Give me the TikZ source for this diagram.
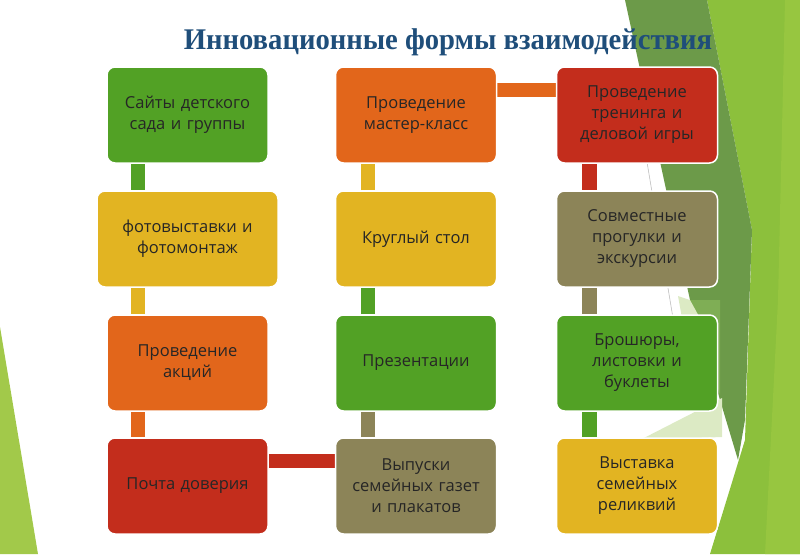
\documentclass[tikz,border=0pt]{standalone}
\usepackage{fontspec}
\usetikzlibrary{backgrounds}
\setmainfont{Open Sans}
\newfontfamily\titlefont{Liberation Serif}
\definecolor{cgreen}{HTML}{52A125}
\definecolor{cyellow}{HTML}{E2B422}
\definecolor{corange}{HTML}{E2661B}
\definecolor{cred}{HTML}{C32D1C}
\definecolor{ckhaki}{HTML}{8C8458}
\definecolor{ctitle}{HTML}{1F4E7A}
\definecolor{ctext}{HTML}{262626}
\definecolor{bgdark}{HTML}{6C9A49}
\definecolor{bglight}{HTML}{8CC03C}
\definecolor{bglight2}{HTML}{97C640}
\definecolor{bgleft}{HTML}{A2C94A}
\definecolor{bgpale}{HTML}{DCEAC4}
\definecolor{bgmid}{HTML}{7FAE55}
\tikzset{
  box/.style={draw=white, line width=1.5pt, rounded corners=8pt, fill=#1,
    minimum width=161pt, minimum height=96pt, text width=158pt, align=center,
    font=\fontsize{16.5}{21}\selectfont, text=ctext, inner sep=0pt},
  bar/.style={draw=#1, line width=14.5pt}
}
\begin{document}
\begin{tikzpicture}[x=1pt,y=-1pt]
\useasboundingbox (0,0) rectangle (800,554);
% background
\begin{scope}[on background layer]
\fill[bgleft] (0,327) -- (38,554) -- (0,554) -- cycle;
\fill[bglight] (707,0) -- (800,0) -- (800,554) -- (710,554) -- (745,440) -- (752,230) -- cycle;
\fill[bglight2] (785,0) -- (800,0) -- (800,554) -- (765,554) -- (778,300) -- cycle;
\fill[bgdark] (625,0) -- (707,0) -- (752,230) -- (745,420) -- (738,460) -- (690,300) -- cycle;
\fill[bgmid] (690,300) -- (720,300) -- (720,395) -- cycle;
\fill[bgpale] (678,296) -- (690,300) -- (712,340) -- (682,318) -- cycle;
\fill[bgpale] (640,440) -- (722,398) -- (722,437) -- cycle;
\draw[gray!50, line width=0.6pt] (645,150) -- (675,330);
\end{scope}
% title
\node[font=\titlefont\bfseries\fontsize{30}{34}\selectfont, text=ctitle, xscale=0.955] (title) at (448,42) {Инновационные формы взаимодействия};
% column 1
\node[box=cgreen] (a1) at (187.5,115) {Сайты детского\\сада и группы};
\node[box=cyellow, minimum width=181pt, text width=170pt] (a2) at (187.5,239) {фотовыставки и\\фотомонтаж};
\node[box=corange] (a3) at (187.5,363) {Проведение\\акций};
\node[box=cred] (a4) at (187.5,486) {Почта доверия};
% column 2
\node[box=corange] (b1) at (416,115) {Проведение\\мастер-класс};
\node[box=cyellow] (b2) at (416,239) {Круглый стол};
\node[box=cgreen] (b3) at (416,363) {Презентации};
\node[box=ckhaki] (b4) at (416,486) {Выпуски\\семейных газет\\и плакатов};
% column 3
\node[box=cred] (c1) at (637,115) {Проведение\\тренинга и\\деловой игры};
\node[box=ckhaki] (c2) at (637,239) {Совместные\\прогулки и\\экскурсии};
\node[box=cgreen] (c3) at (637,363) {Брошюры,\\листовки и\\буклеты};
\node[box=cyellow] (c4) at (637,486) {Выставка\\семейных\\реликвий};
% connectors
\begin{scope}[on background layer]
\draw[bar=cgreen] ([xshift=31.5pt]a1.south west) -- ([xshift=31.5pt]a1.south west |- a2.north);
\draw[bar=cyellow] ([xshift=31.5pt]a3.north west |- a2.south) -- ([xshift=31.5pt]a3.north west);
\draw[bar=corange] ([xshift=31.5pt]a3.south west) -- ([xshift=31.5pt]a4.north west);
\draw[bar=cred] ([yshift=-23.5pt]a4.north east) -- ([yshift=-23.5pt]b4.north west);
\draw[bar=ckhaki] ([xshift=33pt]b4.north west) -- ([xshift=33pt]b3.south west);
\draw[bar=cgreen] ([xshift=33pt]b3.north west) -- ([xshift=33pt]b2.south west);
\draw[bar=cyellow] ([xshift=33pt]b2.north west) -- ([xshift=33pt]b1.south west);
\draw[bar=corange] ([yshift=-23.5pt]b1.north east) -- ([yshift=-23.5pt]c1.north west);
\draw[bar=cred] ([xshift=33.5pt]c1.south west) -- ([xshift=33.5pt]c2.north west);
\draw[bar=ckhaki] ([xshift=33.5pt]c2.south west) -- ([xshift=33.5pt]c3.north west);
\draw[bar=cgreen] ([xshift=33.5pt]c3.south west) -- ([xshift=33.5pt]c4.north west);
\end{scope}
\end{tikzpicture}
\end{document}
